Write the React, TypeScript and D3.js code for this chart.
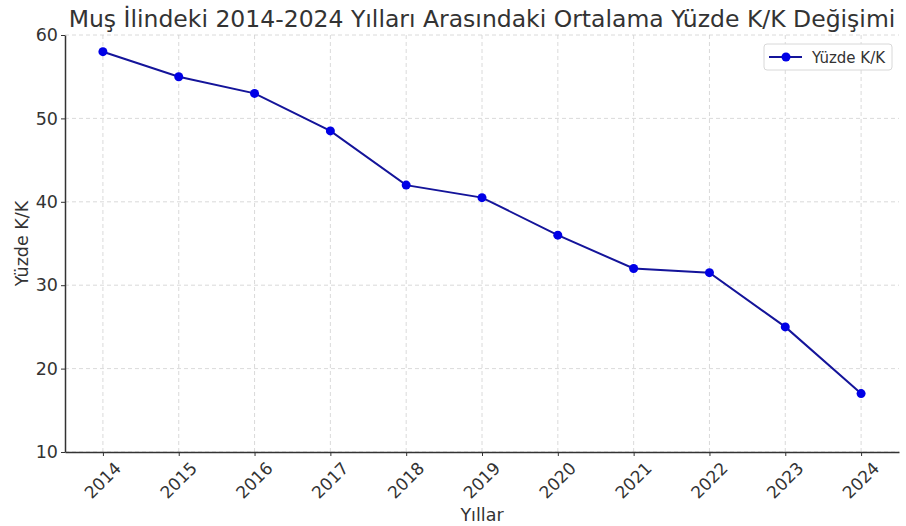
import React, { useEffect, useRef } from "react";
import * as d3 from "d3";

const years = [2014, 2015, 2016, 2017, 2018, 2019, 2020, 2021, 2022, 2023, 2024];
const values = [58, 55, 53, 48.5, 42, 40.5, 36, 32, 31.5, 25, 17];
const yTicks = [10, 20, 30, 40, 50, 60];

const W = 906;
const H = 526;
const margin = { top: 35, right: 7, bottom: 74, left: 65 };
const font = "DejaVu Sans, sans-serif";
const textColor = "#333";

const App = () => {
  const ref = useRef<SVGSVGElement>(null);

  useEffect(() => {
    const svg = d3.select(ref.current);
    svg.selectAll("*").remove();

    const width = W - margin.left - margin.right;
    const height = H - margin.top - margin.bottom;

    const g = svg
      .append("g")
      .attr("transform", `translate(${margin.left},${margin.top})`);

    const x = d3.scaleLinear().domain([2013.5, 2024.5]).range([0, width]);
    const y = d3.scaleLinear().domain([10, 60]).range([height, 0]);

    // grid
    g.append("g")
      .selectAll("line")
      .data(years)
      .join("line")
      .attr("x1", (d) => x(d))
      .attr("x2", (d) => x(d))
      .attr("y1", 0)
      .attr("y2", height)
      .style("stroke", "#d0d0d0")
      .style("stroke-width", 0.8)
      .style("stroke-dasharray", "4,3");

    g.append("g")
      .selectAll("line")
      .data(yTicks)
      .join("line")
      .attr("x1", 0)
      .attr("x2", width)
      .attr("y1", (d) => y(d))
      .attr("y2", (d) => y(d))
      .style("stroke", "#d0d0d0")
      .style("stroke-width", 0.8)
      .style("stroke-dasharray", "4,3");

    // axes
    const xAxis = g
      .append("g")
      .attr("transform", `translate(0,${height})`)
      .call(
        d3
          .axisBottom(x)
          .tickValues(years)
          .tickFormat(d3.format("d"))
          .tickSize(4)
          .tickSizeOuter(0)
      );
    xAxis.select(".domain").style("stroke", "#333").style("stroke-width", 1.5);
    xAxis.selectAll(".tick line").style("stroke", "#333");
    xAxis
      .selectAll(".tick text")
      .style("font-family", font)
      .style("font-size", "17px")
      .style("fill", textColor)
      .attr("text-anchor", "middle")
      .attr("dy", null)
      .attr("y", 29)
      .attr("dominant-baseline", "middle")
      .attr("transform", "rotate(-45, 0, 29)");

    const yAxis = g
      .append("g")
      .call(d3.axisLeft(y).tickValues(yTicks).tickSize(4).tickSizeOuter(0));
    yAxis.select(".domain").style("stroke", "#333").style("stroke-width", 1.5);
    yAxis.selectAll(".tick line").style("stroke", "#333");
    yAxis
      .selectAll(".tick text")
      .style("font-family", font)
      .style("font-size", "17.5px")
      .style("fill", textColor);

    // line
    const line = d3
      .line<number>()
      .x((d, i) => x(years[i]))
      .y((d) => y(d));

    g.append("path")
      .datum(values)
      .attr("d", line)
      .style("fill", "none")
      .style("stroke", "#14149a")
      .style("stroke-width", 2);

    g.append("g")
      .selectAll("circle")
      .data(values)
      .join("circle")
      .attr("cx", (d, i) => x(years[i]))
      .attr("cy", (d) => y(d))
      .attr("r", 4.5)
      .style("fill", "#0000e6");

    // title and labels
    svg
      .append("text")
      .attr("x", margin.left + width / 2)
      .attr("y", 27)
      .attr("text-anchor", "middle")
      .style("font-family", font)
      .style("font-size", "23.5px")
      .style("fill", textColor)
      .text("Muş İlindeki 2014-2024 Yılları Arasındaki Ortalama Yüzde K/K Değişimi");

    svg
      .append("text")
      .attr("x", margin.left + width / 2)
      .attr("y", 521)
      .attr("text-anchor", "middle")
      .style("font-family", font)
      .style("font-size", "17.5px")
      .style("fill", textColor)
      .text("Yıllar");

    svg
      .append("text")
      .attr("transform", `translate(28,${margin.top + height / 2}) rotate(-90)`)
      .attr("text-anchor", "middle")
      .style("font-family", font)
      .style("font-size", "17.5px")
      .style("fill", textColor)
      .text("Yüzde K/K");

    // legend
    const legend = svg.append("g").attr("transform", "translate(764,44)");
    legend
      .append("rect")
      .attr("width", 128)
      .attr("height", 26)
      .attr("rx", 3)
      .style("fill", "white")
      .style("stroke", "#d8d8d8");
    legend
      .append("line")
      .attr("x1", 5)
      .attr("x2", 38)
      .attr("y1", 13)
      .attr("y2", 13)
      .style("stroke", "#14149a")
      .style("stroke-width", 2);
    legend
      .append("circle")
      .attr("cx", 22)
      .attr("cy", 13)
      .attr("r", 4.5)
      .style("fill", "#0000e6");
    legend
      .append("text")
      .attr("x", 48)
      .attr("y", 19)
      .style("font-family", font)
      .style("font-size", "15px")
      .style("fill", textColor)
      .text("Yüzde K/K");
  }, []);

  return (
    <svg
      ref={ref}
      width={W}
      height={H}
      style={{ position: "absolute", left: 0, top: 0, background: "white" }}
    />
  );
};

export default App;
